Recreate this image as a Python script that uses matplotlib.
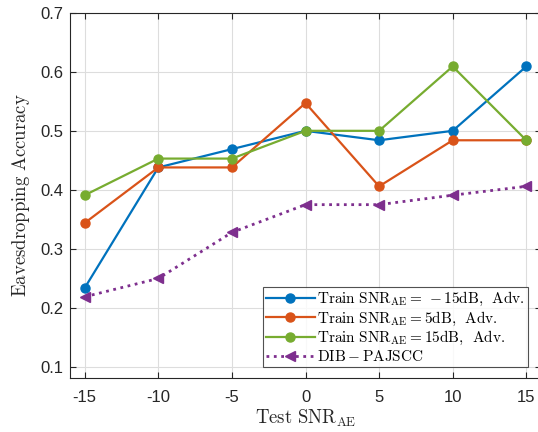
import matplotlib
matplotlib.use("Agg")
import matplotlib.pyplot as plt

plt.rcParams['mathtext.fontset'] = 'cm'

snr = [-15, -10, -5, 0, 5, 10, 15]
acc_m15 = [0.234, 0.438, 0.469, 0.500, 0.484, 0.500, 0.609]
acc_5 = [0.344, 0.438, 0.438, 0.547, 0.406, 0.484, 0.484]
acc_15 = [0.391, 0.453, 0.453, 0.500, 0.500, 0.609, 0.484]
acc_dib = [0.219, 0.250, 0.328, 0.375, 0.375, 0.391, 0.406]

labels = [r'$\mathrm{Train\ SNR_{AE}=\,-15dB,\ \,Adv.}$',
          r'$\mathrm{Train\ SNR_{AE}=5dB,\ \,Adv.}$',
          r'$\mathrm{Train\ SNR_{AE}=15dB,\ \,Adv.}$',
          r'$\mathrm{DIB-PAJSCC}$']
xticks = [-15, -10, -5, 0, 5, 10, 15]
yticks = [0.1, 0.2, 0.3, 0.4, 0.5, 0.6, 0.7]

W, H = 538, 432
fig = plt.figure(figsize=(W/100, H/100), dpi=100)
ax = fig.add_axes([70/W, (H-377.7)/H, (541-70)/W, (377.7-12.7)/H])

ax.plot(snr, acc_m15, '-o', color='#0072BD', lw=1.6, ms=6.5, label=labels[0])
ax.plot(snr, acc_5, '-o', color='#D95319', lw=1.6, ms=6.5, label=labels[1])
ax.plot(snr, acc_15, '-o', color='#77AC30', lw=1.6, ms=6.5, label=labels[2])
ax.plot(snr, acc_dib, ':<', color='#7E2F8E', lw=2.0, ms=7, label=labels[3])

ax.set_xlim(-16, 16)
ax.set_ylim(0.082, 0.7)
ax.set_xticks(xticks)
ax.set_xticklabels([str(t) for t in xticks])
ax.set_yticks(yticks)
ax.set_yticklabels([f'{t:.1f}' for t in yticks])
ax.grid(True, color='#dddddd', lw=0.8)
ax.set_axisbelow(True)
ax.tick_params(direction='in', top=True, right=True, length=4, width=0.8,
               labelsize=12, colors='#262626')
ax.tick_params(axis='x', pad=9)
ax.tick_params(axis='y', pad=5)
for lab in ax.get_xticklabels() + ax.get_yticklabels():
    lab.set_family('Liberation Sans')
for s in ax.spines.values():
    s.set_color('#262626')
    s.set_linewidth(0.8)

ax.set_xlabel(r'$\mathrm{Test\ SNR_{AE}}$', fontsize=13.5, color='#262626', labelpad=2)
ax.set_ylabel(r'$\mathrm{Eavesdropping\ Accuracy}$', fontsize=13.5, color='#262626', labelpad=6)

leg = ax.legend(loc='lower right', bbox_to_anchor=(528/W, (H-367)/H),
                bbox_transform=fig.transFigure, fontsize=11, handlelength=3.2,
                frameon=True, fancybox=False, borderpad=0.2, labelspacing=0.1,
                handletextpad=0.15, borderaxespad=0)
leg.get_frame().set_edgecolor('#262626')
leg.get_frame().set_linewidth(0.8)

fig.savefig('out.png', dpi=100)
